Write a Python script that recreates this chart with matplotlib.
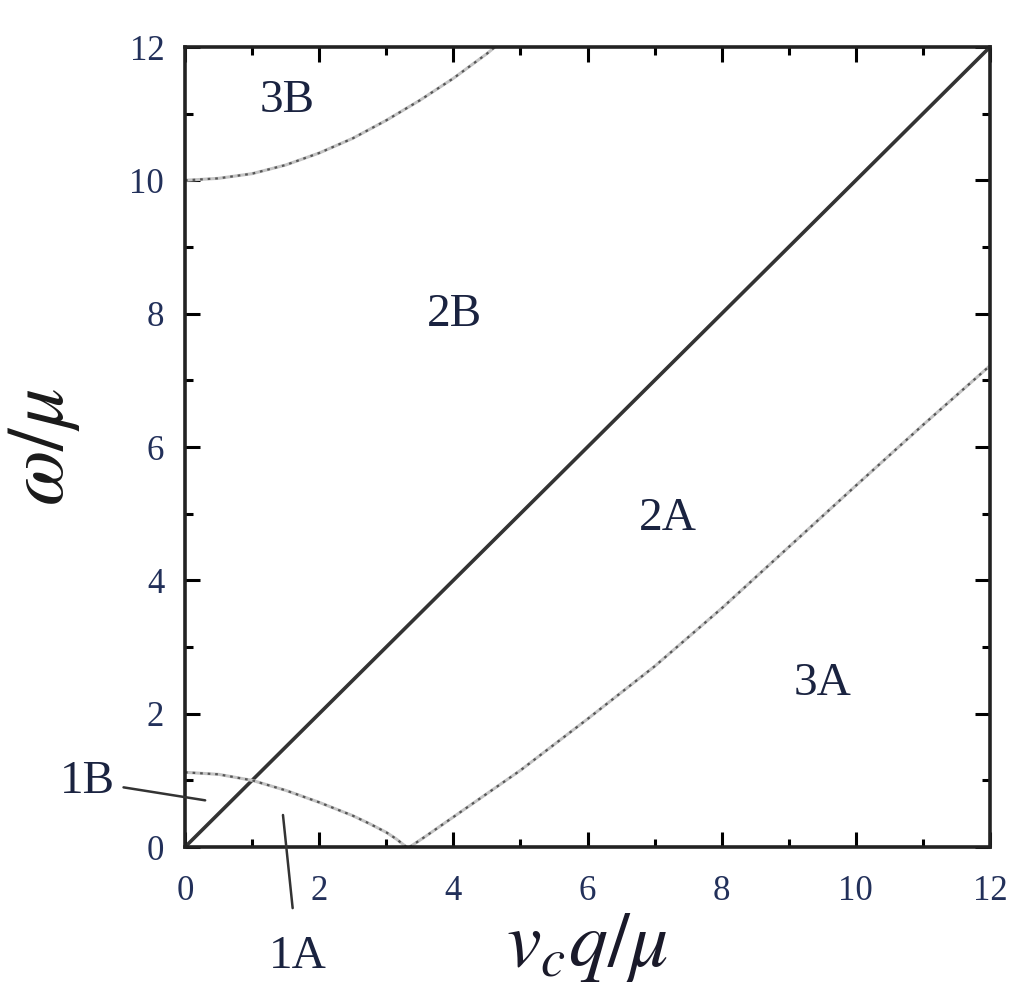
import matplotlib.pyplot as plt
import numpy as np

# diagonal boundary omega = v_c q
diag_x = [0, 12]
diag_y = [0, 12]

# upper-left curve (3B boundary)
upper_x = [0, 0.5, 1.0, 1.5, 2.0, 2.5, 3.0, 3.5, 4.0, 4.5, 4.62]
upper_y = [10.0, 10.03, 10.1, 10.23, 10.41, 10.63, 10.9, 11.2, 11.53, 11.9, 12.0]

# low branch (1A / 1B boundary)
low_x = [0, 0.5, 1.0, 1.5, 2.0, 2.5, 2.75, 3.0, 3.15, 3.3]
low_y = [1.12, 1.09, 1.0, 0.85, 0.67, 0.47, 0.35, 0.22, 0.12, 0.0]

# rising branch (2A / 3A boundary)
rise_x = [3.35, 3.6, 4, 4.5, 5, 6, 7, 8, 9, 10, 11, 12]
rise_y = [0.0, 0.17, 0.45, 0.8, 1.15, 1.92, 2.71, 3.58, 4.5, 5.42, 6.33, 7.22]

region_labels = ['3B', '2B', '2A', '3A']
region_x = [1.52, 4.02, 7.2, 9.51]
region_y = [11.2, 7.98, 4.93, 2.45]

ticks = [0, 2, 4, 6, 8, 10, 12]

plt.rcParams.update({
    'font.family': ['Liberation Serif', 'DejaVu Serif'],
    'mathtext.fontset': 'stix',
})

fig = plt.figure(figsize=(10.24, 9.98), dpi=100)
ax = fig.add_axes([0.1807, 0.1513, 0.7861, 0.8016])

ax.plot(diag_x, diag_y, color='#333333', lw=2.6, solid_capstyle='butt')
for xs, ys in [(upper_x, upper_y), (low_x, low_y), (rise_x, rise_y)]:
    ax.plot(xs, ys, color='#c4c4c4', lw=2.2)
    ax.plot(xs, ys, color='#555555', lw=1.6, dashes=(1.2, 2.2))

ax.set_xlim(0, 12)
ax.set_ylim(0, 12)
ax.set_xticks(ticks)
ax.set_yticks(ticks)
ax.set_xticks(np.arange(1, 12, 2), minor=True)
ax.set_yticks(np.arange(1, 12, 2), minor=True)
ax.tick_params(which='both', direction='in', top=True, right=True, width=2.2,
               labelsize=25, labelcolor='#22305a')
ax.tick_params(axis='x', which='major', pad=20)
ax.tick_params(axis='y', which='major', pad=15)
ax.tick_params(which='major', length=11)
ax.tick_params(which='minor', length=6)
for s in ax.spines.values():
    s.set_linewidth(2.6)
    s.set_color('#222222')

for lab, x, y in zip(region_labels, region_x, region_y):
    ax.text(x, y, lab, fontsize=34, ha='center', va='center', color='#1a2340')

ax.annotate('1B', xy=(0.3, 0.7), xytext=(-1.45, 0.98), fontsize=34,
            ha='center', va='center', color='#1a2340', annotation_clip=False,
            arrowprops=dict(arrowstyle='-', color='#333333', lw=1.8, shrinkA=4, shrinkB=0))
ax.annotate('1A', xy=(1.46, 0.48), xytext=(1.68, -1.65), fontsize=34,
            ha='center', va='center', color='#1a2340', annotation_clip=False,
            arrowprops=dict(arrowstyle='-', color='#333333', lw=1.8, shrinkA=18, shrinkB=0))

ax.set_xlabel(r'$v_c q/\mu$', fontsize=56, color='#1a1a2a')
ax.set_ylabel(r'$\omega/\mu$', fontsize=58, color='#1a1a1a')
ax.xaxis.set_label_coords(0.5, -0.08)
ax.yaxis.label.set_va('center')
ax.yaxis.set_label_coords(-0.175, 0.5)

fig.savefig('out.png', dpi=100, facecolor='white')
